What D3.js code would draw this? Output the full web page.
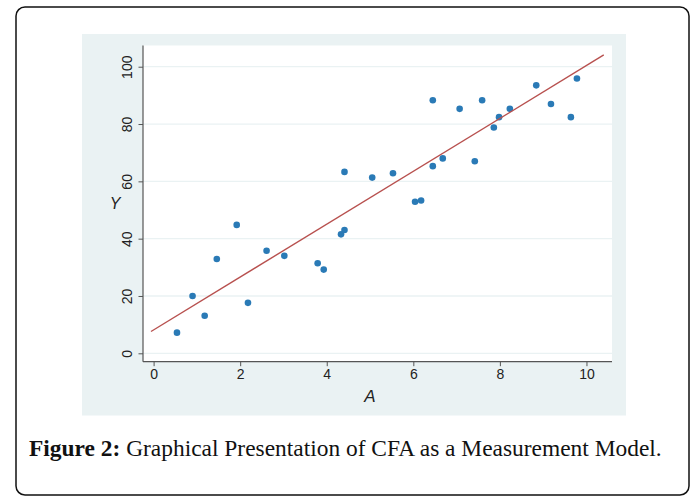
<!DOCTYPE html>
<html>
<head>
<meta charset="utf-8">
<script src="https://cdn.jsdelivr.net/npm/d3@7"></script>
<style>
  html, body { margin: 0; padding: 0; background: #fff; }
  svg { display: block; }
</style>
</head>
<body>
<div id="chart"></div>
<script>
// scatter of A vs Y
const aValues = [0.54, 0.9, 1.18, 1.46, 1.92, 2.18, 2.61, 3.02, 3.79, 3.93,
  4.33, 4.41, 4.41, 5.05, 5.53, 6.04, 6.18, 6.45, 6.45, 6.68,
  7.07, 7.42, 7.59, 7.86, 7.98, 8.23, 8.84, 9.18, 9.64, 9.78];
const yValues = [7.2, 20.0, 13.1, 32.9, 44.8, 17.6, 35.8, 34.0, 31.4, 29.2,
  41.5, 43.0, 63.3, 61.3, 62.8, 52.9, 53.3, 65.3, 88.3, 68.0,
  85.3, 67.0, 88.3, 78.8, 82.4, 85.3, 93.5, 87.0, 82.4, 95.9];

// fitted line end points
const fitA = [-0.06, 10.4];
const fitY = [7.6, 104.1];

const xTicks = [0, 2, 4, 6, 8, 10];
const yTicks = [0, 20, 40, 60, 80, 100];

const size = { width: 694, height: 501 };
const panel = { left: 82, top: 34, right: 626, bottom: 415.5 };
const plot = { left: 143, top: 45.5, right: 612, bottom: 361.7 };

const bg = '#eaf2f3';

const svg = d3
  .select('#chart')
  .append('svg')
  .attr('width', size.width)
  .attr('height', size.height);

// outer frame
svg
  .append('rect')
  .attr('x', 16)
  .attr('y', 7)
  .attr('width', 673)
  .attr('height', 488)
  .attr('rx', 9)
  .attr('fill', '#fff')
  .attr('stroke', '#111')
  .attr('stroke-width', 1.5);

svg
  .append('rect')
  .attr('x', panel.left)
  .attr('y', panel.top)
  .attr('width', panel.right - panel.left)
  .attr('height', panel.bottom - panel.top)
  .attr('fill', bg);

svg
  .append('rect')
  .attr('x', plot.left)
  .attr('y', plot.top)
  .attr('width', plot.right - plot.left)
  .attr('height', plot.bottom - plot.top)
  .attr('fill', '#fff');

const x = d3
  .scaleLinear()
  .domain([-0.245, 10.59])
  .range([plot.left, plot.right]);

const y = d3
  .scaleLinear()
  .domain([-2.93, 107.4])
  .range([plot.bottom, plot.top]);

// grid
svg
  .append('g')
  .selectAll('line')
  .data(yTicks)
  .enter()
  .append('line')
  .attr('x1', plot.left)
  .attr('x2', plot.right)
  .attr('y1', (d) => y(d))
  .attr('y2', (d) => y(d))
  .attr('stroke', bg)
  .attr('stroke-width', 1.3);

const axisFont = "'Liberation Sans', Arial, sans-serif";

const xAxis = svg
  .append('g')
  .attr('transform', `translate(0, ${plot.bottom})`)
  .call(d3.axisBottom(x).tickValues(xTicks).tickSize(4.5).tickPadding(3).tickSizeOuter(0));

const yAxis = svg
  .append('g')
  .attr('transform', `translate(${plot.left}, 0)`)
  .call(d3.axisLeft(y).tickValues(yTicks).tickSize(4.5).tickSizeOuter(0));

[xAxis, yAxis].forEach((g) => {
  g.select('.domain').attr('stroke', '#555').attr('stroke-width', 1.2);
  g.selectAll('.tick line').attr('stroke', '#555').attr('stroke-width', 1);
  g.selectAll('.tick text')
    .attr('fill', '#222')
    .style('font-family', axisFont)
    .style('font-size', '14px');
});

// x axis line spans the whole plot width
xAxis.select('.domain').attr('d', `M${plot.left},0H${plot.right}`);
yAxis.select('.domain').attr('d', `M0,${plot.top}V${plot.bottom}`);

// rotated y tick labels
yAxis
  .selectAll('.tick text')
  .attr('x', null)
  .attr('dy', null)
  .attr('text-anchor', 'middle')
  .attr('dominant-baseline', 'central')
  .attr('transform', 'translate(-16, 0) rotate(-90)');

svg
  .append('text')
  .text('A')
  .attr('x', (x(0) + x(10)) / 2)
  .attr('y', 402)
  .attr('text-anchor', 'middle')
  .style('font-family', axisFont)
  .style('font-style', 'italic')
  .style('font-size', '17px')
  .attr('fill', '#222');

svg
  .append('text')
  .text('Y')
  .attr('x', 115)
  .attr('y', 209)
  .attr('text-anchor', 'middle')
  .style('font-family', axisFont)
  .style('font-style', 'italic')
  .style('font-size', '16px')
  .attr('fill', '#222');

// points
svg
  .append('g')
  .selectAll('circle')
  .data(aValues)
  .enter()
  .append('circle')
  .attr('cx', (d) => x(d))
  .attr('cy', (d, i) => y(yValues[i]))
  .attr('r', 3.3)
  .attr('fill', '#2a7ab6');

// fitted line
const fitLine = d3
  .line()
  .x((d) => x(d))
  .y((d, i) => y(fitY[i]));

svg
  .append('path')
  .datum(fitA)
  .attr('d', fitLine)
  .attr('fill', 'none')
  .attr('stroke', '#b8514f')
  .attr('stroke-width', 1.4);

// caption
const caption = svg
  .append('text')
  .attr('x', 29)
  .attr('y', 456)
  .style('font-family', "'Liberation Serif', 'DejaVu Serif', serif")
  .style('font-size', '19px')
  .attr('fill', '#111');

caption.append('tspan').text('Figure 2:').attr('font-weight', 'bold');
caption.append('tspan').text(' Graphical Presentation of CFA as a Measurement Model.');

// stretch to the width it takes in the picture
const want = 662 - 29;
const got = caption.node().getComputedTextLength();
caption.style('font-size', `${(19 * want) / got}px`);
</script>
</body>
</html>
